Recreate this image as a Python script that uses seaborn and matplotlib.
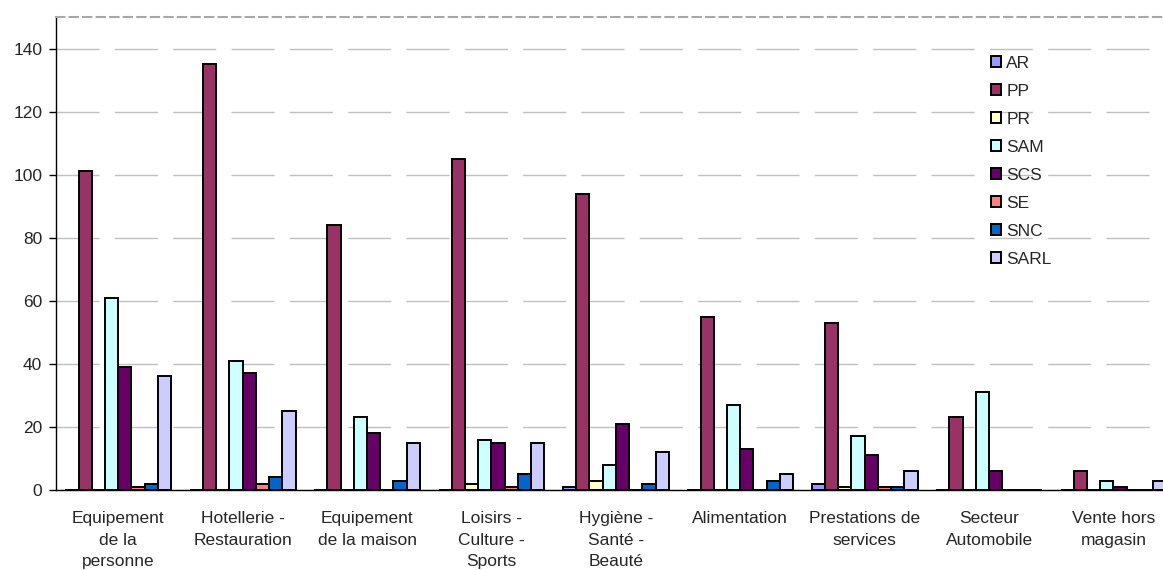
import pandas as pd
import seaborn as sns
import matplotlib.pyplot as plt

categories = ['Equipement\nde la\npersonne', 'Hotellerie -\nRestauration', 'Equipement\nde la maison',
              'Loisirs -\nCulture -\nSports', 'Hygiène -\nSanté -\nBeauté', 'Alimentation',
              'Prestations de\nservices', 'Secteur\nAutomobile', 'Vente hors\nmagasin']
series = ['AR', 'PP', 'PR', 'SAM', 'SCS', 'SE', 'SNC', 'SARL']
colors = ['#9999FF', '#993366', '#FFFFCC', '#CCFFFF', '#660066', '#FF8080', '#0066CC', '#CCCCFF']

ar = [0, 0, 0, 0, 1, 0, 2, 0, 0]
pp = [101, 135, 84, 105, 94, 55, 53, 23, 6]
pr = [0, 0, 0, 2, 3, 0, 1, 0, 0]
sam = [61, 41, 23, 16, 8, 27, 17, 31, 3]
scs = [39, 37, 18, 15, 21, 13, 11, 6, 1]
se = [1, 2, 0, 1, 0, 0, 1, 0, 0]
snc = [2, 4, 3, 5, 2, 3, 1, 0, 0]
sarl = [36, 25, 15, 15, 12, 5, 6, 0, 3]

wide = pd.DataFrame({'AR': ar, 'PP': pp, 'PR': pr, 'SAM': sam, 'SCS': scs,
                     'SE': se, 'SNC': snc, 'SARL': sarl}, index=categories)
df = wide.reset_index().melt(id_vars='index', var_name='serie', value_name='nb')
df = df.rename(columns={'index': 'secteur'})

sns.set_style('white')
plt.rcParams['font.family'] = ['Liberation Sans', 'DejaVu Sans']
fs = 12.5

fig = plt.figure(figsize=(11.63, 5.70), dpi=100)
ax = fig.add_axes([0.0482, 0.1404, 0.9627, 0.8298])

sns.barplot(data=df, x='secteur', y='nb', hue='serie', hue_order=series, order=categories,
            palette=colors, width=0.85, edgecolor='black', linewidth=1.4,
            errorbar=None, saturation=1, ax=ax)

ax.set_ylim(0, 150)
ax.set_xlim(-0.5, 8.5)
ax.set_yticks(range(0, 141, 20))
ax.yaxis.grid(True, color='#c0c0c0', linestyle=(0, (31, 11)), linewidth=1)
ax.set_axisbelow(True)
ax.set_xlabel('')
ax.set_ylabel('')

ax.set_xticks(range(9))
ax.set_xticklabels(categories, fontsize=fs, linespacing=1.56, va='top')
ax.set_xticks([i - 0.5 for i in range(10)], minor=True)
ax.tick_params(axis='x', which='major', length=0, pad=15)
ax.tick_params(axis='x', which='minor', length=6, direction='out', color='black', width=1)
ax.tick_params(axis='y', length=5, direction='out', color='black', width=1, labelsize=fs, left=True, pad=5)

for s in ['left', 'bottom']:
    ax.spines[s].set_color('black')
    ax.spines[s].set_linewidth(1)
ax.spines['right'].set_visible(False)
ax.spines['top'].set_color('#a8a8a8')
ax.spines['top'].set_linewidth(1.5)
ax.spines['top'].set_linestyle((0, (4, 2.5)))

ax.legend(loc='upper left', bbox_to_anchor=(982 / 1163, 1 - 47 / 570), bbox_transform=fig.transFigure,
          frameon=False, fontsize=fs, handlelength=0.6, handleheight=0.6,
          handletextpad=0.3, labelspacing=0.75, borderpad=0)

fig.savefig('out.png', dpi=100)
